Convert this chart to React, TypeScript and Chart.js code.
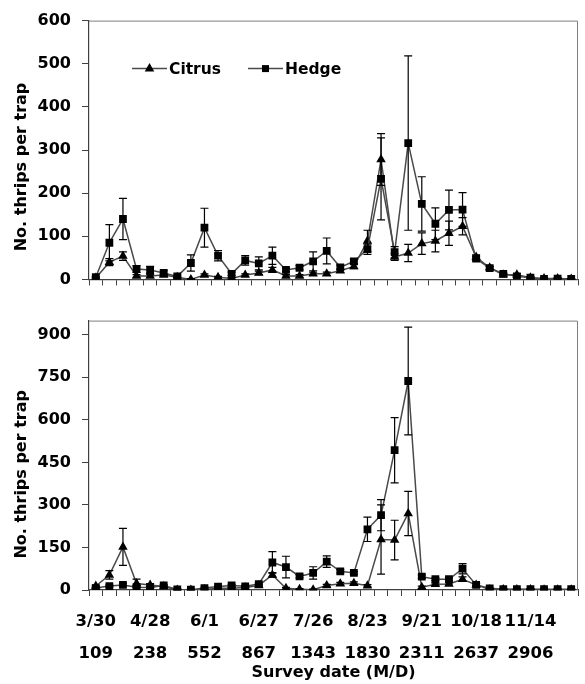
import React, { useEffect, useRef } from "react";
import { Chart, registerables } from "chart.js";

Chart.register(...registerables);

// ---- data ----
const tickDates = ["3/30", "4/28", "6/1", "6/27", "7/26", "8/23", "9/21", "10/18", "11/14"];
const tickDegreeDays = ["109", "238", "552", "867", "1343", "1830", "2311", "2637", "2906"];
const labelEvery = 4;

const citrusTop = [3, 40, 54, 8, 8, 10, 5, 0, 10, 5, 2, 10, 15, 22, 8, 8, 13, 13, 20, 30, 89, 278, 52, 61, 83, 89, 107, 123, 52, 27, 11, 11, 4, 2, 2, 1];
const citrusTopErr = [2, 8, 10, 3, 3, 3, 2, 2, 3, 2, 2, 3, 4, 6, 3, 3, 4, 4, 4, 5, 25, 60, 8, 20, 25, 25, 28, 20, 5, 3, 2, 2, 2, 1, 1, 1];
const hedgeTop = [5, 85, 140, 24, 22, 15, 7, 38, 120, 55, 13, 44, 37, 55, 22, 27, 42, 66, 28, 42, 70, 233, 63, 316, 175, 129, 161, 162, 48, 26, 13, 7, 4, 1, 2, 1];
const hedgeTopErr = [2, 42, 48, 8, 8, 5, 3, 19, 45, 12, 4, 11, 15, 20, 4, 5, 22, 30, 5, 5, 12, 95, 13, 202, 63, 37, 46, 39, 5, 3, 2, 2, 2, 1, 1, 1];

const citrusBottom = [14, 53, 152, 23, 18, 12, 0, 0, 2, 6, 6, 9, 16, 53, 6, 3, 1, 16, 22, 24, 15, 178, 176, 270, 10, 20, 21, 38, 18, 2, 2, 2, 2, 1, 1, 1];
const citrusBottomErr = [3, 15, 65, 15, 5, 3, 2, 2, 2, 3, 3, 3, 4, 8, 3, 2, 2, 4, 5, 5, 4, 122, 70, 78, 4, 4, 4, 8, 4, 2, 2, 2, 2, 1, 1, 1];
const hedgeBottom = [7, 14, 18, 10, 9, 16, 2, 1, 7, 12, 16, 13, 21, 97, 81, 48, 60, 100, 66, 60, 214, 264, 493, 737, 47, 38, 38, 75, 18, 6, 3, 3, 3, 3, 3, 3];
const hedgeBottomErr = [3, 3, 4, 3, 3, 4, 2, 2, 3, 3, 4, 3, 4, 38, 38, 5, 22, 20, 6, 5, 43, 55, 115, 190, 6, 5, 5, 18, 4, 2, 2, 2, 2, 2, 2, 2];

const seriesNames = ["Citrus", "Hedge"];

const categories = citrusTop.map((_, i) => String(i + 1));

// ---- styles ----
const FONT = "'DejaVu Sans', sans-serif";
const LINE_COLOR = "#4a4a4a";
const AXIS_COLOR = "#404040";
const FRAME_COLOR = "#7f7f7f";

const errorBarPlugin = {
  id: "errorBars",
  afterDatasetsDraw(chart: any) {
    const ctx = chart.ctx;
    const yScale = chart.scales.y;
    ctx.save();
    ctx.strokeStyle = "#000";
    ctx.lineWidth = 1.2;
    chart.data.datasets.forEach((ds: any, di: number) => {
      const meta = chart.getDatasetMeta(di);
      const errs = ds.errors || [];
      meta.data.forEach((pt: any, i: number) => {
        const v = ds.data[i];
        const e = errs[i] || 0;
        if (!e) return;
        const x = pt.x;
        const yTop = yScale.getPixelForValue(v + e);
        const yBot = yScale.getPixelForValue(Math.max(v - e, 0));
        ctx.beginPath();
        ctx.moveTo(x, yTop);
        ctx.lineTo(x, yBot);
        ctx.moveTo(x - 4, yTop);
        ctx.lineTo(x + 4, yTop);
        ctx.moveTo(x - 4, yBot);
        ctx.lineTo(x + 4, yBot);
        ctx.stroke();
      });
    });
    ctx.restore();
  },
};

const framePlugin = {
  id: "frame",
  afterDraw(chart: any) {
    const { ctx, chartArea: a } = chart;
    ctx.save();
    ctx.strokeStyle = FRAME_COLOR;
    ctx.lineWidth = 1;
    ctx.beginPath();
    ctx.moveTo(a.left, a.top + 0.5);
    ctx.lineTo(a.right - 0.5, a.top + 0.5);
    ctx.lineTo(a.right - 0.5, a.bottom);
    ctx.stroke();
    ctx.restore();
  },
};

const yTitlePlugin = {
  id: "yTitle",
  afterDraw(chart: any, _args: any, opts: any) {
    const { ctx, chartArea: a } = chart;
    ctx.save();
    ctx.translate(21.5, (a.top + a.bottom) / 2 + opts.shift);
    ctx.rotate(-Math.PI / 2);
    ctx.font = `bold 16px ${FONT}`;
    ctx.fillStyle = "#000";
    ctx.textAlign = "center";
    ctx.textBaseline = "middle";
    ctx.fillText(opts.text, 0, 0);
    ctx.restore();
  },
};

const legendPlugin = {
  id: "customLegend",
  afterDraw(chart: any, _args: any, opts: any) {
    if (!opts.show) return;
    const { ctx, chartArea: a } = chart;
    const y = a.top + 48;
    const items = [
      { name: seriesNames[0], x: a.left + 43, style: "triangle" },
      { name: seriesNames[1], x: a.left + 159, style: "rect" },
    ];
    ctx.save();
    items.forEach((it) => {
      ctx.strokeStyle = LINE_COLOR;
      ctx.lineWidth = 1.5;
      ctx.beginPath();
      ctx.moveTo(it.x, y);
      ctx.lineTo(it.x + 35, y);
      ctx.stroke();
      const cx = it.x + 17.5;
      ctx.fillStyle = "#000";
      ctx.beginPath();
      if (it.style === "triangle") {
        ctx.moveTo(cx, y - 5.5);
        ctx.lineTo(cx + 4.8, y + 3);
        ctx.lineTo(cx - 4.8, y + 3);
        ctx.closePath();
      } else {
        ctx.rect(cx - 3.5, y - 3.5, 7, 7);
      }
      ctx.fill();
      ctx.font = `bold 15.5px ${FONT}`;
      ctx.textBaseline = "middle";
      ctx.textAlign = "left";
      ctx.fillText(it.name, it.x + 37, y + 1);
    });
    ctx.restore();
  },
};

function makeConfig(opts: {
  citrus: number[];
  citrusErr: number[];
  hedge: number[];
  hedgeErr: number[];
  max: number;
  tickMax: number;
  step: number;
  padTop: number;
  xHeight: number;
  showXLabels: boolean;
  showLegend: boolean;
  titleShift: number;
}) {
  return {
    type: "line",
    data: {
      labels: categories,
      datasets: [
        {
          label: seriesNames[1],
          data: opts.hedge,
          errors: opts.hedgeErr,
          borderColor: LINE_COLOR,
          borderWidth: 1.5,
          pointStyle: "rect",
          pointRadius: 5.5,
          pointBackgroundColor: "#000",
          pointBorderColor: "#000",
          pointBorderWidth: 0,
          tension: 0,
        },
        {
          label: seriesNames[0],
          data: opts.citrus,
          errors: opts.citrusErr,
          borderColor: LINE_COLOR,
          borderWidth: 1.5,
          pointStyle: "triangle",
          pointRadius: 5.5,
          pointBackgroundColor: "#000",
          pointBorderColor: "#000",
          pointBorderWidth: 0,
          tension: 0,
        },
      ],
    },
    options: {
      responsive: false,
      animation: false,
      devicePixelRatio: 1,
      layout: { padding: { top: opts.padTop, right: 7, left: 0, bottom: 0 } },
      plugins: {
        legend: { display: false },
        tooltip: { enabled: false },
        customLegend: { show: opts.showLegend },
        yTitle: { text: "No. thrips per trap", shift: opts.titleShift },
      },
      scales: {
        x: {
          type: "category",
          offset: true,
          grid: {
            offset: true,
            drawOnChartArea: false,
            drawTicks: true,
            tickLength: 6,
            color: AXIS_COLOR,
            lineWidth: 1,
          },
          border: { display: true, color: AXIS_COLOR, width: 1.2 },
          ticks: {
            display: opts.showXLabels,
            autoSkip: false,
            maxRotation: 0,
            minRotation: 0,
            padding: 10,
            color: "#000",
            font: { family: FONT, size: 16.5, weight: "bold", lineHeight: "32px" },
            callback: (_v: any, idx: number) =>
              idx % labelEvery === 0 && tickDates[idx / labelEvery]
                ? [tickDates[idx / labelEvery], tickDegreeDays[idx / labelEvery]]
                : "",
          },
          title: {
            display: opts.showXLabels,
            text: "Survey date (M/D)",
            color: "#000",
            font: { family: FONT, size: 16, weight: "bold", lineHeight: 1.2 },
            padding: { top: 0, bottom: 2 },
          },
          afterFit: (scale: any) => {
            scale.height = opts.xHeight;
          },
        },
        y: {
          min: 0,
          max: opts.max,
          grid: {
            drawOnChartArea: false,
            drawTicks: true,
            tickLength: 7,
            color: AXIS_COLOR,
          },
          border: { display: true, color: AXIS_COLOR, width: 1.2 },
          ticks: {
            stepSize: opts.step,
            padding: 11,
            color: "#000",
            font: { family: FONT, size: 16, weight: "bold" },
          },
          afterBuildTicks: (scale: any) => {
            const t: any[] = [];
            for (let v = 0; v <= opts.tickMax; v += opts.step) t.push({ value: v });
            scale.ticks = t;
          },
          afterFit: (scale: any) => {
            scale.width = 89;
          },
        },
      },
    },
    plugins: [errorBarPlugin, framePlugin, yTitlePlugin, legendPlugin],
  } as any;
}

function ChartCanvas({ config, width, height }: { config: any; width: number; height: number }) {
  const ref = useRef<HTMLCanvasElement | null>(null);
  useEffect(() => {
    if (!ref.current) return;
    const chart = new Chart(ref.current, config);
    return () => chart.destroy();
  }, [config]);
  return <canvas ref={ref} width={width} height={height} style={{ display: "block", width, height }} />;
}

const topConfig = makeConfig({
  citrus: citrusTop,
  citrusErr: citrusTopErr,
  hedge: hedgeTop,
  hedgeErr: hedgeTopErr,
  max: 600,
  tickMax: 600,
  step: 100,
  padTop: 20,
  xHeight: 8,
  showXLabels: false,
  showLegend: true,
  titleShift: 17,
});

const bottomConfig = makeConfig({
  citrus: citrusBottom,
  citrusErr: citrusBottomErr,
  hedge: hedgeBottom,
  hedgeErr: hedgeBottomErr,
  max: 950,
  tickMax: 900,
  step: 150,
  padTop: 19,
  xHeight: 94,
  showXLabels: true,
  showLegend: false,
  titleShift: 19,
});

export default function App() {
  return (
    <div style={{ position: "absolute", left: 0, top: 0, width: 585, height: 684, background: "#fff" }}>
      <div style={{ position: "absolute", left: 0, top: 0 }}>
        <ChartCanvas config={topConfig} width={585} height={300} />
      </div>
      <div style={{ position: "absolute", left: 0, top: 300 }}>
        <ChartCanvas config={bottomConfig} width={585} height={384} />
      </div>
    </div>
  );
}
